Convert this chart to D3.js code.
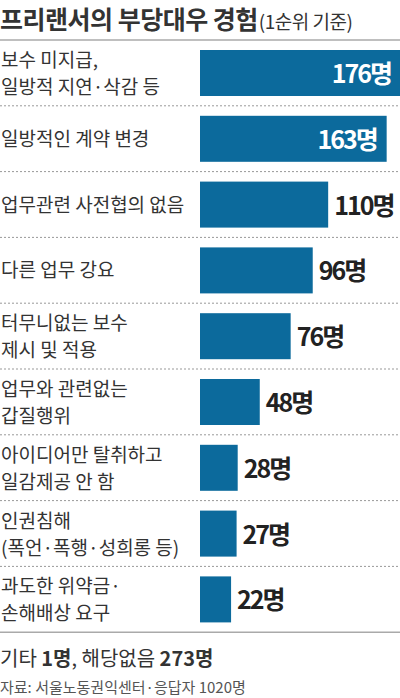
<!DOCTYPE html>
<html><head><meta charset="utf-8">
<script src="https://cdn.jsdelivr.net/npm/d3@7"></script>
<style>body{margin:0;background:#fff}svg{font-family:"Noto Sans CJK KR","Noto Sans",sans-serif}</style>
</head><body><svg width="400" height="698"></svg>
<script>
var labels = [['보수 미지급,', '일방적 지연·삭감 등'], ['일방적인 계약 변경'], ['업무관련 사전협의 없음'],
              ['다른 업무 강요'], ['터무니없는 보수', '제시 및 적용'], ['업무와 관련없는', '갑질행위'],
              ['아이디어만 탈취하고', '일감제공 안 함'], ['인권침해', '(폭언·폭행·성희롱 등)'], ['과도한 위약금·', '손해배상 요구']];
var values = [176, 163, 110, 96, 76, 48, 28, 27, 22];

var svg = d3.select('svg');
var top0 = 40, rowH = 65.8;
var x = d3.scaleLinear().domain([0, 176]).range([206.8, 401]);
var y = d3.scaleBand().domain(d3.range(values.length)).range([top0, top0 + rowH * values.length]);

var t = svg.append('text').attr('x', 0).attr('y', 29).attr('fill', '#333').attr('letter-spacing', -0.5);
t.append('tspan').text('프리랜서의 부당대우 경험').attr('font-size', 25).attr('font-weight', 'bold');
t.append('tspan').text('(1순위 기준)').attr('font-size', 19).attr('dx', 1);

svg.append('line').attr('x1', 0).attr('x2', 400).attr('y1', top0).attr('y2', top0).attr('stroke', '#aaa').attr('stroke-width', 1.5);

var rows = svg.selectAll('g.row').data(values).enter().append('g').attr('class', 'row')
    .attr('transform', function(d, i) { return 'translate(0,' + y(i) + ')'; });

rows.append('line').attr('x1', 0).attr('x2', 400).attr('y1', rowH).attr('y2', rowH)
    .attr('stroke', function(d, i) { return i == values.length - 1 ? '#aaa' : '#999'; })
    .attr('stroke-width', function(d, i) { return i == values.length - 1 ? 1.5 : 1; })
    .attr('stroke-dasharray', function(d, i) { return i == values.length - 1 ? null : '2,2'; });

rows.append('rect').attr('x', 200).attr('y', 10).attr('height', 46)
    .attr('width', function(d) { return x(d) - 200; }).attr('fill', '#0c6a9c');

rows.append('text')
    .attr('x', function(d) { return d > 150 ? x(d) - 10 : x(d) + 6; })
    .attr('y', 43).attr('font-size', 25).attr('font-weight', 'bold').attr('letter-spacing', -2)
    .attr('text-anchor', function(d) { return d > 150 ? 'end' : 'start'; })
    .attr('fill', function(d) { return d > 150 ? '#fff' : '#222'; })
    .text(function(d) { return d + '명'; });

rows.each(function(d, i) {
    var lines = labels[i];
    var g = d3.select(this);
    lines.forEach(function(s, j) {
        var yy = lines.length == 1 ? 40 : 27 + j * 27;
        g.append('text').attr('x', 1).attr('y', yy).attr('font-size', 19).attr('fill', '#333').text(s);
    });
});

var b = svg.append('text').attr('x', 0).attr('y', 666).attr('font-size', 20).attr('fill', '#333');
b.append('tspan').text('기타 ');
b.append('tspan').text('1명').attr('font-weight', 'bold');
b.append('tspan').text(', 해당없음 ');
b.append('tspan').text('273명').attr('font-weight', 'bold');

svg.append('text').attr('x', 0).attr('y', 693).attr('font-size', 15).attr('fill', '#555')
    .text('자료: 서울노동권익센터·응답자 1020명');
</script></body></html>
